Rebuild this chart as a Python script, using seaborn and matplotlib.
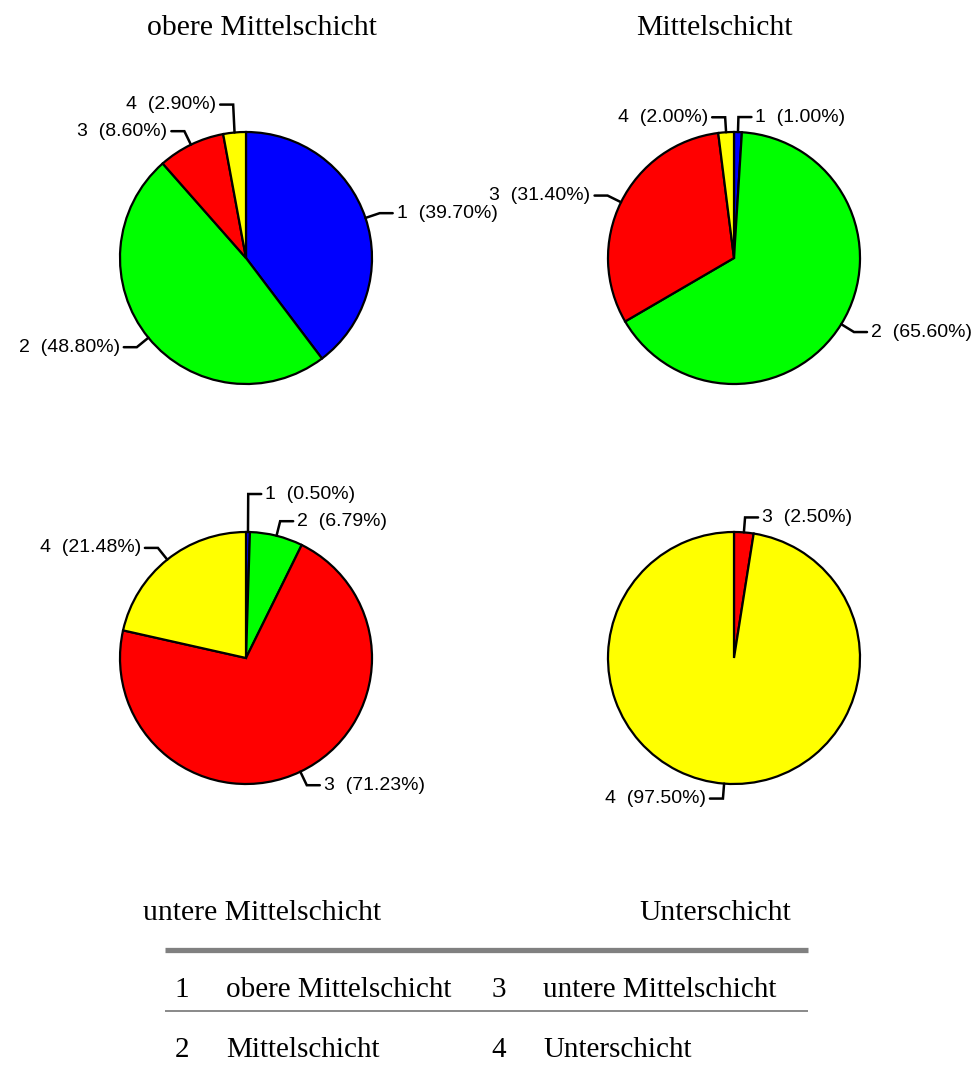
import numpy as np
import matplotlib
matplotlib.use("Agg")
import matplotlib.pyplot as plt
import seaborn as sns

# categories (legend) and the four groups
codes = ["1", "2", "3", "4"]
category_names = ["obere Mittelschicht", "Mittelschicht", "untere Mittelschicht", "Unterschicht"]
group_titles = ["obere Mittelschicht", "Mittelschicht", "untere Mittelschicht", "Unterschicht"]

# percentages per group, in order of codes 1..4
obere_mittel = [39.70, 48.80, 8.60, 2.90]
mittel = [1.00, 65.60, 31.40, 2.00]
untere_mittel = [0.50, 6.79, 71.23, 21.48]
unter = [0.00, 0.00, 2.50, 97.50]

slice_colors = ["#0000FF", "#00FF00", "#FF0000", "#FFFF00"]

sns.set_style("white")
plt.rcParams['font.family'] = ['Liberation Sans', 'DejaVu Sans']
plt.rcParams['text.color'] = 'black'

W, H = 975, 1068
fig = plt.figure(figsize=(W / 100, H / 100), dpi=100)
ax = fig.add_axes([0, 0, 1, 1])

R = 126
# pie centers in pixels (x, y from top)
centers = [(246, 258), (734, 258), (246, 658), (734, 658)]
# extra vertical lift of some label elbows (px) to avoid crowding
lift = [{3: 13}, {}, {0: 23}, {}]
serif = ["Liberation Serif", "DejaVu Serif"]

groups = [obere_mittel, mittel, untere_mittel, unter]
for gi, vals in enumerate(groups):
    cx, cy = centers[gi]
    cy = H - cy
    idx = [i for i, v in enumerate(vals) if v > 0]
    wedges, _ = ax.pie([vals[i] for i in idx], colors=[slice_colors[i] for i in idx],
                       startangle=90, counterclock=False, center=(cx, cy), radius=R,
                       wedgeprops=dict(edgecolor="black", linewidth=1.6))
    for w, i in zip(wedges, idx):
        ang = np.deg2rad((w.theta1 + w.theta2) / 2)
        ex, ey = cx + R * np.cos(ang), cy + R * np.sin(ang)
        bx, by = cx + (R + 15) * np.cos(ang), cy + (R + 15) * np.sin(ang)
        by += lift[gi].get(i, 0)
        side = 1 if np.cos(ang) >= 0 else -1
        hx = bx + side * 13
        ax.plot([ex, bx, hx], [ey, by, by], color="black", lw=1.8,
                solid_joinstyle="miter", zorder=3)
        ax.text(hx + side * 4, by, f"{codes[i]}  ({vals[i]:.2f}%)", color="black",
                ha="left" if side > 0 else "right", va="center", fontsize=14)

# group titles
title_pos = [(262, 28), (714, 28), (262, 913), (715, 913)]
for t, (tx, ty) in zip(group_titles, title_pos):
    ax.text(tx, H - ty, t, ha="center", va="center", fontsize=21.3, family=serif,
            color="black")

# legend table
ax.plot([165, 808], [H - 950, H - 950], color="#808080", lw=3.8, solid_capstyle="butt")
ax.plot([165, 808], [H - 1011, H - 1011], color="#808080", lw=1.3, solid_capstyle="butt")
rows_y = [990, 1050]
for k in range(4):
    col, row = divmod(k, 2)
    y = H - rows_y[row]
    ax.text([182, 499][col], y, codes[k], ha="center", va="center", fontsize=21,
            family=serif, color="black")
    ax.text([226, 543][col], y, category_names[k], ha="left", va="center", fontsize=21,
            family=serif, color="black")

ax.set_xlim(0, W)
ax.set_ylim(0, H)
ax.set_aspect("equal")
ax.axis("off")
fig.savefig("out.png", dpi=100, facecolor="white")
